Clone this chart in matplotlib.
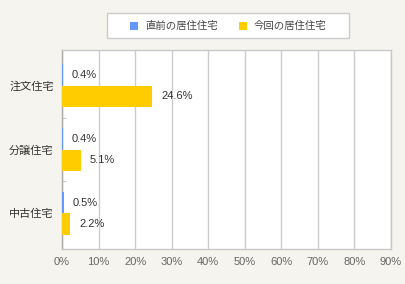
import matplotlib
matplotlib.use("Agg")
import matplotlib.pyplot as plt
from matplotlib.patches import Rectangle
import numpy as np

categories = ["注文住宅", "分譲住宅", "中古住宅"]
series_names = ["直前の居住住宅", "今回の居住住宅"]
prev_values = [0.4, 0.4, 0.5]
curr_values = [24.6, 5.1, 2.2]
x_ticks = [0, 10, 20, 30, 40, 50, 60, 70, 80, 90]
x_tick_labels = [f"{t}%" for t in x_ticks]

colors = ["#6699ff", "#ffcc00"]
FONT = ["Liberation Sans", "Noto Sans CJK JP", "DejaVu Sans"]
plt.rcParams["font.family"] = FONT

fig = plt.figure(figsize=(4.05, 2.84), dpi=100)
fig.patch.set_facecolor("#f5f4ee")
ax = fig.add_axes([62 / 405, 1 - 249 / 284, (391 - 62) / 405, (249 - 50) / 284])
ax.set_facecolor("white")

y = np.arange(len(categories))
h = 0.337
ax.barh(y - h / 2, prev_values, height=h, color=colors[0], zorder=3)
ax.barh(y + h / 2, curr_values, height=h, color=colors[1], zorder=3)

for yi, v in zip(y, prev_values):
    ax.annotate(f"{v}%", (v, yi - h / 2), xytext=(6, 0), textcoords="offset points",
                va="center", ha="left", fontsize=8, color="#333333")
for yi, v in zip(y, curr_values):
    ax.annotate(f"{v}%", (v, yi + h / 2), xytext=(6.5, 0), textcoords="offset points",
                va="center", ha="left", fontsize=8, color="#333333")

ax.set_xlim(0, 90)
ax.set_ylim(2.56, -0.56)
ax.set_xticks(x_ticks)
ax.set_xticklabels(x_tick_labels, fontsize=8, color="#666666")
ax.set_yticks(y)
ax.set_yticklabels(categories, fontsize=8, color="#333333")
ax.set_yticks([0.5, 1.5], minor=True)
ax.tick_params(axis="y", which="major", length=0, pad=6)
ax.tick_params(axis="y", which="minor", length=3, direction="in", color="#bbbbbb")
ax.tick_params(axis="x", length=0, pad=6)
ax.grid(axis="x", color="#cccccc", linewidth=1, zorder=0)
for s in ax.spines.values():
    s.set_color("#c8c8c8")
    s.set_linewidth(1)
ax.spines["left"].set_color("#aaaaaa")

# legend box
box = Rectangle((107 / 405, 1 - 38 / 284), (349 - 107) / 405, (38 - 13) / 284,
                transform=fig.transFigure, facecolor="white", edgecolor="#cccccc",
                linewidth=1)
fig.patches.append(box)
leg_x = [130, 239]
for xi, name, c in zip(leg_x, series_names, colors):
    sq = Rectangle((xi / 405, 1 - 29.5 / 284), 8 / 405, 8 / 284,
                   transform=fig.transFigure, facecolor=c, edgecolor="none")
    fig.patches.append(sq)
    fig.text((xi + 15) / 405, 1 - 25.5 / 284, name, fontsize=7.5, color="#444444",
             va="center", ha="left")

fig.savefig("out.png", dpi=100, facecolor=fig.get_facecolor())
